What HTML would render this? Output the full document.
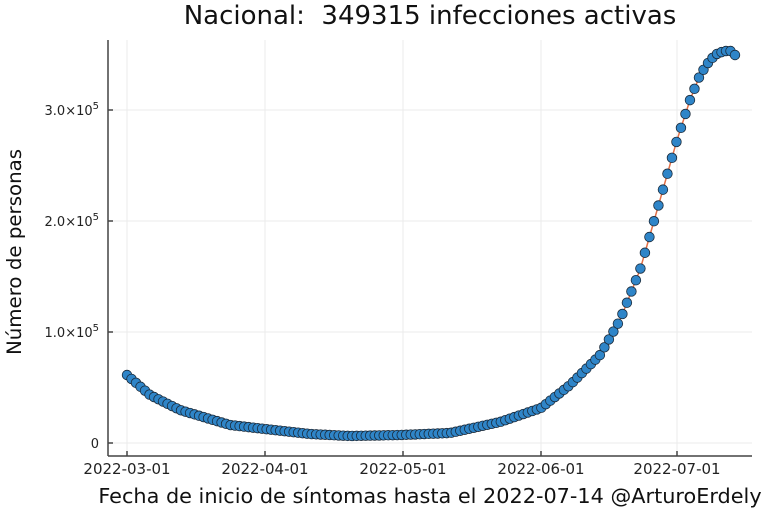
<!DOCTYPE html>
<html><head><meta charset="utf-8"><style>
body{margin:0;background:#fff}
svg{display:block;font-family:"DejaVu Sans","Liberation Sans",sans-serif}
</style></head><body>
<svg id="s" width="768" height="512" xmlns="http://www.w3.org/2000/svg">
<g stroke="#ebebeb" stroke-width="1">
<line x1="127" y1="40" x2="127" y2="456"/><line x1="265" y1="40" x2="265" y2="456"/>
<line x1="403" y1="40" x2="403" y2="456"/><line x1="541" y1="40" x2="541" y2="456"/>
<line x1="677" y1="40" x2="677" y2="456"/>
<line x1="108" y1="443" x2="752" y2="443"/><line x1="108" y1="332" x2="752" y2="332"/>
<line x1="108" y1="221" x2="752" y2="221"/><line x1="108" y1="110" x2="752" y2="110"/>
</g>
<g stroke="#444" stroke-width="1.5">
<line x1="108" y1="40" x2="108" y2="456"/><line x1="108" y1="456" x2="752" y2="456"/>
<line x1="108" y1="443" x2="113" y2="443"/><line x1="108" y1="332" x2="113" y2="332"/>
<line x1="108" y1="221" x2="113" y2="221"/><line x1="108" y1="110" x2="113" y2="110"/>
<line x1="127" y1="456" x2="127" y2="451"/><line x1="265" y1="456" x2="265" y2="451"/>
<line x1="403" y1="456" x2="403" y2="451"/><line x1="541" y1="456" x2="541" y2="451"/>
<line x1="677" y1="456" x2="677" y2="451"/>
</g>
<g font-size="15" fill="#222" text-anchor="middle">
<text x="127" y="474">2022-03-01</text><text x="265" y="474">2022-04-01</text>
<text x="403" y="474">2022-05-01</text><text x="541" y="474">2022-06-01</text>
<text x="677" y="474">2022-07-01</text>
</g>
<g font-size="13" fill="#222" text-anchor="end">
<text x="99" y="448">0</text>
<text x="99" y="337">1.0×10<tspan dy="-6" font-size="10">5</tspan></text>
<text x="99" y="226">2.0×10<tspan dy="-6" font-size="10">5</tspan></text>
<text x="99" y="115">3.0×10<tspan dy="-6" font-size="10">5</tspan></text>
</g>
<text x="430" y="24" font-size="26" text-anchor="middle" fill="#111" xml:space="preserve">Nacional:  349315 infecciones activas</text>
<text x="430" y="503" font-size="20.8" text-anchor="middle" fill="#111">Fecha de inicio de síntomas hasta el 2022-07-14 @ArturoErdely</text>
<text transform="translate(21,252) rotate(-90)" font-size="19.8" text-anchor="middle" fill="#111">Número de personas</text>
<g id="pts"></g>
</svg>
<script>
var cp=[[127,375],[150,395],[180,410],[230,425],[265,429],[310,434],[350,436],[400,435],[450,433],[500,422],[541,408],[570,385],[600,355],[620,320],[640,270],[660,200],[677,140],[690,100],[700,75],[710,60],[718,53],[726,51],[731,51],[735,55]];
function f(x){for(var i=0;i<cp.length-1;i++){if(x<=cp[i+1][0]){var a=cp[i],b=cp[i+1],t=(x-a[0])/(b[0]-a[0]);return a[1]+t*(b[1]-a[1]);}}return cp[cp.length-1][1];}
var g=document.getElementById('pts'),ns='http://www.w3.org/2000/svg',pts=[];
for(var d=0;d<=135;d++){var x=127+d*(608/135);pts.push([x,f(x)]);}
var pl=document.createElementNS(ns,'polyline');pl.setAttribute('points',pts.map(p=>p.join(',')).join(' '));
pl.setAttribute('fill','none');pl.setAttribute('stroke','#e26f46');pl.setAttribute('stroke-width','1.5');g.appendChild(pl);
pts.forEach(function(p){var c=document.createElementNS(ns,'circle');c.setAttribute('cx',p[0]);c.setAttribute('cy',p[1]);c.setAttribute('r','4.8');c.setAttribute('fill','#2f85c8');c.setAttribute('stroke','#1a2a3a');c.setAttribute('stroke-width','0.8');g.appendChild(c);});
</script>
</body></html>
